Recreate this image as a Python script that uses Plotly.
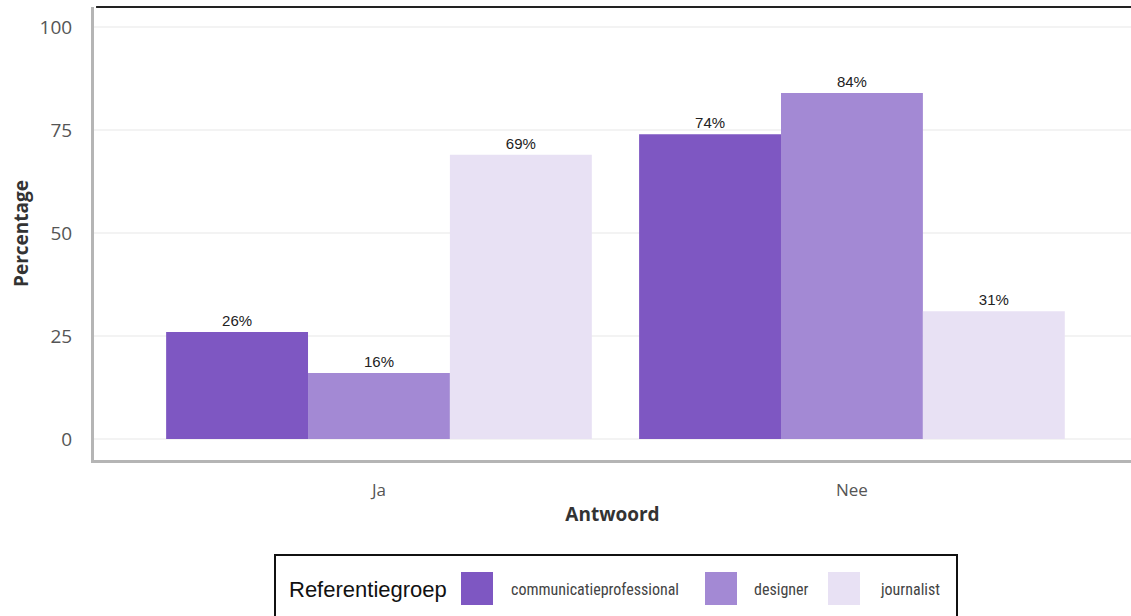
import plotly.graph_objects as go

# Survey answers per reference group (percentages)
antwoorden = ["Ja", "Nee"]
groepen = ["communicatieprofessional", "designer", "journalist"]
communicatieprofessional = [26, 74]
designer = [16, 84]
journalist = [69, 31]
waarden = [communicatieprofessional, designer, journalist]
kleuren = ["#7E57C2", "#A389D4", "#E8E1F4"]

y_ticks = [0, 25, 50, 75, 100]

W, H = 1131, 616
M_L, M_R, M_T, M_B = 94, 0, 7, 156

fig = go.Figure()
for naam, vals, kleur in zip(groepen, waarden, kleuren):
    fig.add_trace(go.Bar(
        x=antwoorden, y=vals, name=naam,
        marker=dict(color=kleur, line=dict(width=0)),
        text=[f"{v}%" for v in vals], textposition="outside",
        textfont=dict(family="Liberation Sans, Arial", size=15, color="#222222"),
        cliponaxis=False, showlegend=False,
    ))

fig.update_layout(
    width=W, height=H,
    margin=dict(l=M_L, r=M_R, t=M_T, b=M_B),
    paper_bgcolor="white", plot_bgcolor="white",
    barmode="group", bargap=0.1, bargroupgap=0,
    font=dict(family="Open Sans", color="#555555"),
)

fig.update_xaxes(
    range=[-0.6025, 1.59],
    showline=True, linecolor="#b5b5b5", linewidth=3,
    showgrid=False, ticks="", ticklen=0, ticklabelstandoff=13,
    tickfont=dict(family="Open Sans", size=17, color="#555555"),
    title=dict(text="<b>Antwoord</b>", standoff=8,
               font=dict(family="Open Sans", size=19, color="#333333")),
)
fig.update_yaxes(
    range=[-5.1, 104.9],
    tickvals=y_ticks, ticktext=[str(t) for t in y_ticks],
    showline=True, linecolor="#b5b5b5", linewidth=3,
    showgrid=True, gridcolor="#f3f3f3", gridwidth=2,
    zeroline=False, ticks="", ticklabelstandoff=15,
    tickfont=dict(family="Open Sans", size=19, color="#555555"),
    title=dict(text="<b>Percentage</b>", standoff=6,
               font=dict(family="Open Sans", size=19, color="#333333")),
)

# Dark line along the top edge of the plotting area
fig.add_shape(type="line", xref="paper", yref="paper",
              x0=0.002, x1=1, y0=1, y1=1,
              line=dict(color="#222222", width=2))

# Legend drawn as a boxed row of swatches (paper coordinates)
pw = W - M_L - M_R
ph = H - M_T - M_B

def px_x(px):
    return (px - M_L) / pw

def px_y(py):
    return (H - M_B - py) / ph

fig.add_shape(type="rect", xref="paper", yref="paper",
              x0=px_x(275), x1=px_x(957), y0=px_y(640), y1=px_y(555),
              line=dict(color="#111111", width=2), fillcolor="white")
fig.add_annotation(xref="paper", yref="paper", x=px_x(287), y=px_y(589),
                   text="Referentiegroep", showarrow=False,
                   xanchor="left", yanchor="middle",
                   font=dict(family="Liberation Sans, Arial", size=22, color="#111111"))
swatch_x = [461, 705, 828]
label_x = [509, 752, 878]
for sx, lx, naam, kleur in zip(swatch_x, label_x, groepen, kleuren):
    fig.add_shape(type="rect", xref="paper", yref="paper",
                  x0=px_x(sx), x1=px_x(sx + 32), y0=px_y(605), y1=px_y(572),
                  line=dict(width=0), fillcolor=kleur)
    fig.add_annotation(xref="paper", yref="paper", x=px_x(lx), y=px_y(589),
                       text=naam, showarrow=False,
                       xanchor="left", yanchor="middle",
                       font=dict(family="Liberation Sans Narrow, Roboto Condensed, Roboto",
                                 size=16, color="#444444"))

fig.write_html("out.html")
